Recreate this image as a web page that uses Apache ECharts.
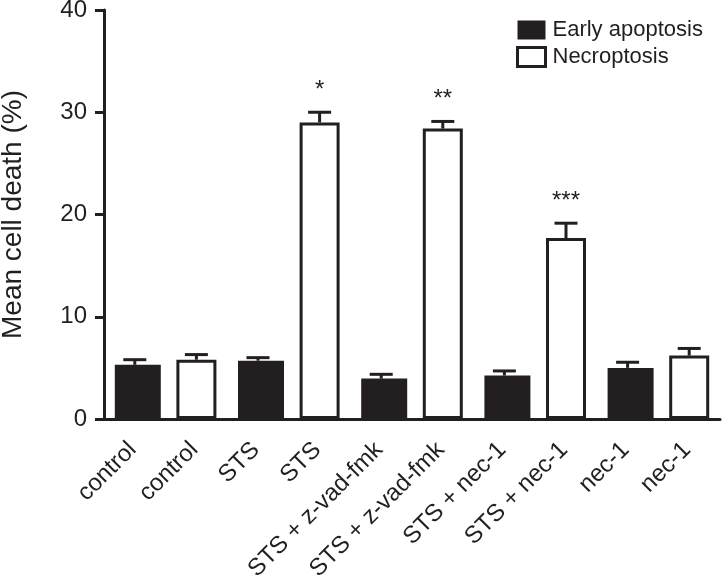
<!DOCTYPE html>
<html>
<head>
<meta charset="utf-8">
<script src="https://cdn.jsdelivr.net/npm/echarts@6/dist/echarts.min.js"></script>
<style>
html,body{margin:0;padding:0;background:#fff;}
#chart{width:725px;height:586px;}
</style>
</head>
<body>
<div id="chart"></div>
<script>
// ---- data ----
const categories = ['control','control','STS','STS','STS + z-vad-fmk','STS + z-vad-fmk','STS + nec-1','STS + nec-1','nec-1','nec-1'];
const earlyValues = [5.3, null, 5.7, null, 3.95, null, 4.25, null, 5.0, null];
const necroValues = [null, 5.8, null, 29.0, null, 28.4, null, 17.7, null, 6.2];
const earlyErr = [0.5, null, 0.3, null, 0.42, null, 0.45, null, 0.55, null];
const necroErr = [null, 0.5, null, 1.0, null, 0.7, null, 1.45, null, 0.7];
const stars = ['', '', '', '*', '', '**', '', '***', '', ''];
const yTicks = [0, 10, 20, 30, 40];

// ---- build ----
const INK = '#231f20';
const FONT = '"Liberation Sans", Arial, Helvetica, sans-serif';
const errData = categories.map((c, i) => {
  const m = earlyValues[i] != null ? earlyValues[i] : necroValues[i];
  const e = earlyValues[i] != null ? earlyErr[i] : necroErr[i];
  return [i, m, e];
});

const chart = echarts.init(document.getElementById('chart'), null, {renderer: 'canvas'});
chart.setOption({
  animation: false,
  backgroundColor: '#ffffff',
  textStyle: {fontFamily: FONT, color: INK},
  grid: {left: 104, right: 5, top: 10, bottom: 167, containLabel: false, outerBoundsMode: 'none'},
  legend: {
    orient: 'vertical',
    left: 511, top: 14,
    itemWidth: 28, itemHeight: 19,
    itemGap: 5,
    icon: 'rect',
    textStyle: {fontFamily: FONT, fontSize: 22, color: INK, padding: [0,0,0,2]},
    data: [
      {name: 'Early apoptosis', itemStyle: {color: INK, borderWidth: 0}},
      {name: 'Necroptosis', itemStyle: {color: '#fff', borderColor: INK, borderWidth: 3}}
    ]
  },
  xAxis: {
    type: 'category',
    data: categories,
    axisLine: {lineStyle: {color: INK, width: 3}},
    axisTick: {alignWithLabel: true, length: 9, lineStyle: {color: INK, width: 3}},
    axisLabel: {rotate: 45, interval: 0, margin: 25, padding: [0, 3, 0, 0], fontSize: 24, color: INK, fontFamily: FONT}
  },
  yAxis: {
    type: 'value',
    min: yTicks[0], max: yTicks[yTicks.length - 1], interval: 10,
    name: 'Mean cell death (%)',
    nameLocation: 'middle',
    nameGap: 77,
    nameTextStyle: {fontSize: 28, color: INK, fontFamily: FONT},
    axisLine: {show: true, lineStyle: {color: INK, width: 3}},
    axisTick: {show: true, length: 9, lineStyle: {color: INK, width: 3}},
    axisLabel: {margin: 17, fontSize: 24, color: INK, fontFamily: FONT},
    splitLine: {show: false}
  },
  series: [
    {
      name: 'Early apoptosis',
      type: 'bar',
      data: earlyValues,
      barWidth: 46,
      barGap: '-100%',
      itemStyle: {color: INK},
      z: 2
    },
    {
      name: 'Necroptosis',
      type: 'bar',
      data: necroValues,
      barWidth: 40,
      barGap: '-100%',
      itemStyle: {color: '#fff', borderColor: INK, borderWidth: 3},
      z: 2
    },
    {
      name: 'err',
      type: 'custom',
      data: errData,
      z: 3,
      renderItem: function (params, api) {
        const x = api.value(0), m = api.value(1), e = api.value(2);
        const p0 = api.coord([x, m]);
        const p1 = api.coord([x, m + e]);
        const half = 11.5;
        const children = [
          {type: 'line', shape: {x1: p0[0], y1: p0[1], x2: p0[0], y2: p1[1]}, style: {stroke: INK, lineWidth: 3}},
          {type: 'line', shape: {x1: p0[0] - half, y1: p1[1], x2: p0[0] + half, y2: p1[1]}, style: {stroke: INK, lineWidth: 3}}
        ];
        const s = stars[params.dataIndex];
        if (s) {
          children.push({
            type: 'text',
            style: {text: s, x: p0[0], y: p1[1] - 22, align: 'center', verticalAlign: 'middle',
                    fontSize: 24, fontFamily: FONT, fill: INK}
          });
        }
        return {type: 'group', children: children};
      }
    }
  ]
});
</script>
</body>
</html>
